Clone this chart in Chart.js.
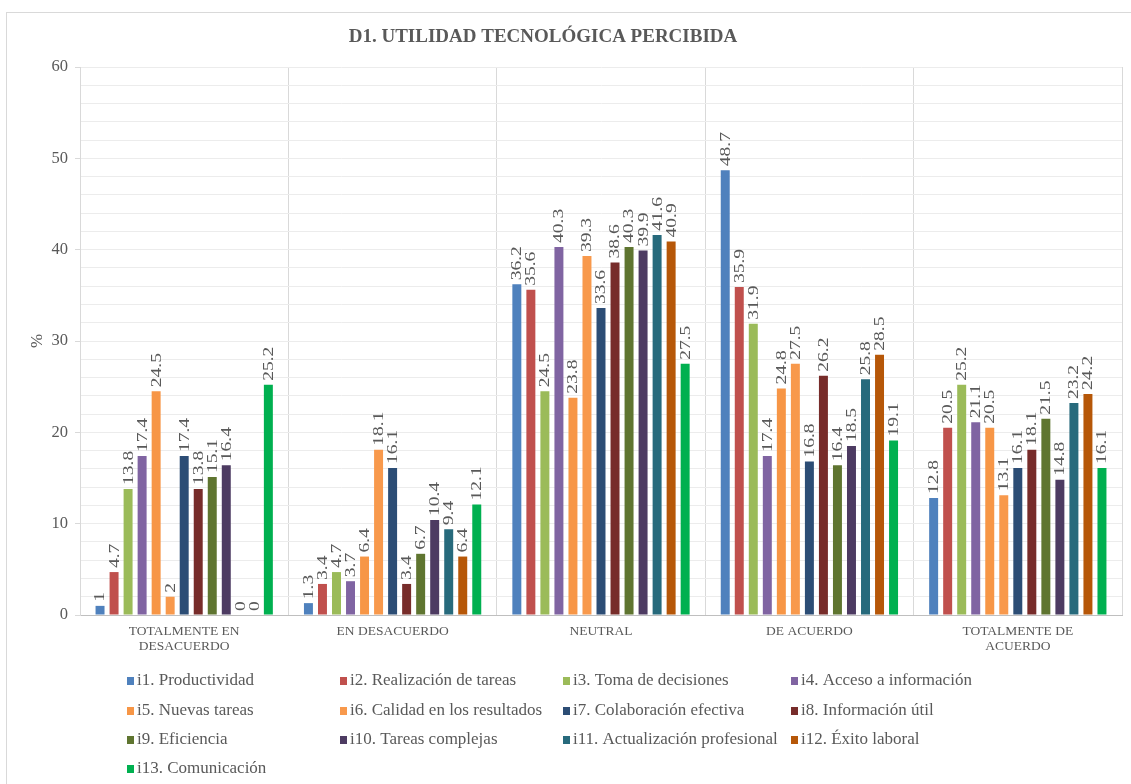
<!DOCTYPE html>
<html lang="es">
<head>
<meta charset="utf-8">
<title>D1. Utilidad tecnológica percibida</title>
<script src="https://cdn.jsdelivr.net/npm/chart.js@4.4.1/dist/chart.umd.min.js"></script>
<style>
  html, body { margin: 0; padding: 0; background: #ffffff; }
  #wrap { position: relative; width: 1131px; height: 784px; }
</style>
</head>
<body>
<div id="wrap"><canvas id="chart" width="1131" height="784"></canvas></div>
<script>
// Response categories (x axis)
const categories = [
  ['TOTALMENTE EN', 'DESACUERDO'],
  'EN DESACUERDO',
  'NEUTRAL',
  'DE ACUERDO',
  ['TOTALMENTE DE', 'ACUERDO']
];

// Item names
const itemLabels = [
  'i1. Productividad', 'i2. Realización de tareas', 'i3. Toma de decisiones', 'i4. Acceso a información',
  'i5. Nuevas tareas', 'i6. Calidad en los resultados', 'i7. Colaboración efectiva', 'i8. Información útil',
  'i9. Eficiencia', 'i10. Tareas complejas', 'i11. Actualización profesional', 'i12. Éxito laboral',
  'i13. Comunicación'
];

// Percentages per item, one value per response category
const i1  = [1,    1.3,  36.2, 48.7, 12.8];
const i2  = [4.7,  3.4,  35.6, 35.9, 20.5];
const i3  = [13.8, 4.7,  24.5, 31.9, 25.2];
const i4  = [17.4, 3.7,  40.3, 17.4, 21.1];
const i5  = [24.5, 6.4,  23.8, 24.8, 20.5];
const i6  = [2,    18.1, 39.3, 27.5, 13.1];
const i7  = [17.4, 16.1, 33.6, 16.8, 16.1];
const i8  = [13.8, 3.4,  38.6, 26.2, 18.1];
const i9  = [15.1, 6.7,  40.3, 16.4, 21.5];
const i10 = [16.4, 10.4, 39.9, 18.5, 14.8];
const i11 = [0,    9.4,  41.6, 25.8, 23.2];
const i12 = [0,    6.4,  40.9, 28.5, 24.2];
const i13 = [25.2, 12.1, 27.5, 19.1, 16.1];

// Y axis ticks
const yTickLabels = [0, 10, 20, 30, 40, 50, 60];

const seriesValues = [i1, i2, i3, i4, i5, i6, i7, i8, i9, i10, i11, i12, i13];
const seriesColors = [
  '#4f81bd', '#c0504d', '#9bbb59', '#8064a2',
  '#f79646', '#f8994c', '#2c4d75', '#772c2a',
  '#5f7530', '#4d3b62', '#276a7c', '#b65708',
  '#00b050'
];

const SERIF = '"Liberation Serif", "DejaVu Serif", serif';
const TEXT_GREY = '#595959';

const datasets = seriesValues.map((vals, k) => ({
  label: itemLabels[k],
  data: vals,
  backgroundColor: seriesColors[k],
  borderWidth: 0,
  categoryPercentage: 0.875,
  barPercentage: 0.64
}));

// White background and thin frame around the whole figure
const framePlugin = {
  id: 'frame',
  beforeDraw(chart) {
    const ctx = chart.ctx;
    ctx.save();
    ctx.fillStyle = '#ffffff';
    ctx.fillRect(0, 0, chart.width, chart.height);
    ctx.strokeStyle = '#d9d9d9';
    ctx.lineWidth = 1;
    ctx.strokeRect(6.5, 12.5, chart.width + 20, chart.height + 20);
    ctx.restore();
  }
};

// Chart heading
const headingPlugin = {
  id: 'heading',
  afterDraw(chart) {
    const ctx = chart.ctx;
    ctx.save();
    ctx.font = 'bold 19px ' + SERIF;
    ctx.fillStyle = TEXT_GREY;
    ctx.textAlign = 'center';
    ctx.textBaseline = 'middle';
    ctx.fillText('D1. UTILIDAD TECNOLÓGICA PERCIBIDA', 543, 37);
    ctx.restore();
  }
};

// Vertical value labels above each bar (narrow, elongated glyphs)
const valueLabelPlugin = {
  id: 'valueLabels',
  afterDatasetsDraw(chart) {
    const ctx = chart.ctx;
    ctx.save();
    ctx.font = '15px ' + SERIF;
    ctx.fillStyle = TEXT_GREY;
    ctx.textAlign = 'left';
    ctx.textBaseline = 'middle';
    chart.data.datasets.forEach((ds, di) => {
      const meta = chart.getDatasetMeta(di);
      meta.data.forEach((bar, j) => {
        const v = ds.data[j];
        ctx.save();
        ctx.translate(bar.x + 0.5, bar.y - 4);
        ctx.rotate(-Math.PI / 2);
        ctx.scale(1.3, 1);
        ctx.fillText(String(v), 0, 0);
        ctx.restore();
      });
    });
    ctx.restore();
  }
};

// Legend laid out in four fixed columns under the plot
const gridLegendPlugin = {
  id: 'gridLegend',
  afterDraw(chart) {
    const ctx = chart.ctx;
    const colX = [130, 343, 566, 794];
    const rowY = [681, 711, 740, 769];
    ctx.save();
    ctx.font = '17px ' + SERIF;
    ctx.textBaseline = 'middle';
    ctx.textAlign = 'left';
    chart.data.datasets.forEach((ds, k) => {
      const x = colX[k % 4];
      const y = rowY[Math.floor(k / 4)];
      ctx.fillStyle = ds.backgroundColor;
      ctx.fillRect(x - 3, y - 4, 7, 8);
      ctx.fillStyle = TEXT_GREY;
      ctx.fillText(ds.label, x + 7, y);
    });
    ctx.restore();
  }
};

new Chart(document.getElementById('chart'), {
  type: 'bar',
  data: { labels: categories, datasets },
  plugins: [framePlugin, valueLabelPlugin, headingPlugin, gridLegendPlugin],
  options: {
    responsive: false,
    animation: false,
    layout: { padding: { left: 5, right: 9, top: 67, bottom: 119 } },
    plugins: {
      legend: { display: false },
      title: { display: false },
      tooltip: { enabled: false }
    },
    scales: {
      x: {
        afterFit(scale) { scale.height = 50; },
        grid: {
          color: '#d9d9d9',
          drawTicks: false,
          offset: true
        },
        border: { color: '#bfbfbf' },
        ticks: {
          color: TEXT_GREY,
          font: { family: SERIF, size: 13.5, lineHeight: 1.1 },
          padding: 9,
          maxRotation: 0,
          autoSkip: false
        }
      },
      y: {
        min: 0,
        max: 60,
        afterFit(scale) { scale.width = 75; },
        afterBuildTicks(scale) {
          const t = [];
          for (let v = 0; v <= 60; v += 2) t.push({ value: v });
          scale.ticks = t;
        },
        grid: {
          color: '#ececec',
          tickLength: 5,
          tickColor: (c) => (c.tick && yTickLabels.includes(c.tick.value)) ? '#d9d9d9' : 'rgba(0,0,0,0)'
        },
        border: { color: '#d9d9d9' },
        ticks: {
          autoSkip: false,
          color: TEXT_GREY,
          font: { family: SERIF, size: 16.5 },
          padding: 7,
          callback: (v) => yTickLabels.includes(v) ? String(v) : ''
        },
        title: {
          display: true,
          text: '%',
          color: TEXT_GREY,
          font: { family: SERIF, size: 17 },
          padding: { top: 22, bottom: 0 }
        }
      }
    }
  }
});
</script>
</body>
</html>
